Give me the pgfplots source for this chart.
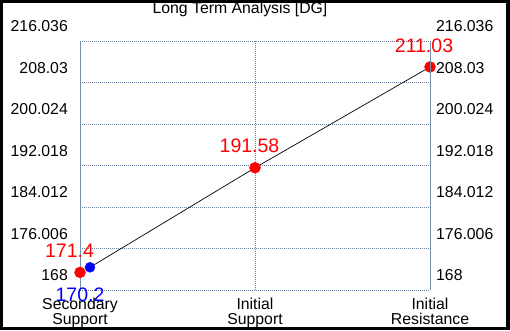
\documentclass[border=0pt]{standalone}
\usepackage{pgfplots}
\pgfplotsset{compat=1.18}
\usepackage{fontspec}
\setmainfont{Liberation Sans}
\definecolor{gridc}{RGB}{105,128,160}
\definecolor{axc}{RGB}{120,142,175}
\begin{document}
\begin{tikzpicture}[x=1pt,y=1pt]
\fill[black] (0,0) rectangle (510,330);
\fill[white] (3,3) rectangle (506,327);
\useasboundingbox (0,0) rectangle (510,330);
\begin{axis}[
  at={(80pt,40pt)}, anchor=south west,
  scale only axis, width=350pt, height=249pt,
  xmin=0, xmax=2, ymin=168, ymax=216.036,
  separate axis lines,
  x axis line style={draw=none},
  y axis line style={draw=axc, line width=1pt},
  axis y line*=left,
  clip=false,
  grid=major,
  major grid style={draw=gridc, line width=1pt, dash pattern=on 1pt off 1pt},
  major tick length=0pt,
  xtick={0,1,2},
  xticklabels={Secondary\\Support, Initial\\Support, Initial\\Resistance},
  xticklabel style={align=center, anchor=north, inner sep=0pt, yshift=-8pt,
    font=\fontsize{15.8}{15}\selectfont},
  ytick={168,176.006,184.012,192.018,200.024,208.03,216.036},
  yticklabels={168,176.006,184.012,192.018,200.024,208.03,216.036},
  yticklabel style={anchor=east, inner sep=0pt, xshift=-12pt, yshift=14.5pt,
    font=\fontsize{15.8}{18}\selectfont},
]
\addplot[black, line width=0.7pt, mark=none] coordinates {(0.057,172.38) (1,191.58) (2,211.03)};
\addplot[only marks, mark=*, mark size=5.5pt, color=red, mark options={draw=red, fill=red}]
  coordinates {(0,171.4) (1,191.58) (2,211.03)};
\addplot[only marks, mark=*, mark size=5pt, color=blue, mark options={draw=blue, fill=blue}]
  coordinates {(0.057,172.38)};
\node[red, font=\fontsize{19.5}{22}\selectfont, inner sep=0pt, xshift=-10.5pt, yshift=22pt] at (axis cs:0,171.4) {171.4};
\node[red, font=\fontsize{19.5}{22}\selectfont, inner sep=0pt, xshift=-5.5pt, yshift=22pt] at (axis cs:1,191.58) {191.58};
\node[red, font=\fontsize{19.5}{22}\selectfont, inner sep=0pt, xshift=-6pt, yshift=21.5pt] at (axis cs:2,211.03) {211.03};
\node[blue, font=\fontsize{19.5}{22}\selectfont, inner sep=0pt, xshift=-10pt, yshift=-27pt] at (axis cs:0.057,172.38) {170.2};
\end{axis}
\begin{axis}[
  at={(80pt,40pt)}, anchor=south west,
  scale only axis, width=350pt, height=249pt,
  xmin=0, xmax=2, ymin=168, ymax=216.036,
  axis y line*=right,
  axis x line=none,
  y axis line style={draw=axc, line width=1pt},
  major tick length=0pt,
  ytick={168,176.006,184.012,192.018,200.024,208.03,216.036},
  yticklabels={168,176.006,184.012,192.018,200.024,208.03,216.036},
  yticklabel style={anchor=west, inner sep=0pt, xshift=6pt, yshift=14.5pt,
    font=\fontsize{15.8}{18}\selectfont},
]
\end{axis}
\node[anchor=base, inner sep=0pt, font=\fontsize{15.8}{18}\selectfont] at (240,316) {Long Term Analysis [DG]};
\end{tikzpicture}
\end{document}
